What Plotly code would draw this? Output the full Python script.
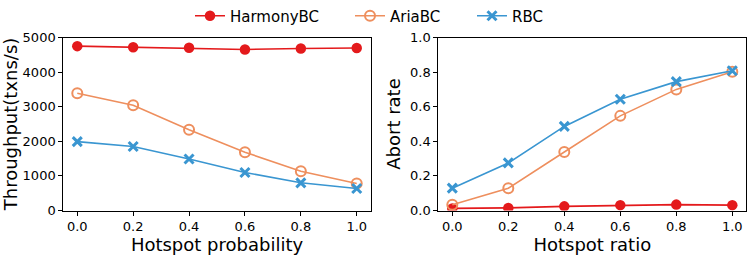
import plotly.graph_objects as go

x_vals = [0.0, 0.2, 0.4, 0.6, 0.8, 1.0]
series_names = ["HarmonyBC", "AriaBC", "RBC"]

throughput_harmony = [4750, 4720, 4705, 4655, 4680, 4695]
throughput_aria = [3390, 3040, 2335, 1685, 1135, 780]
throughput_rbc = [1990, 1850, 1490, 1100, 800, 635]

abort_harmony = [0.012, 0.015, 0.024, 0.031, 0.034, 0.031]
abort_aria = [0.033, 0.129, 0.338, 0.547, 0.700, 0.802]
abort_rbc = [0.129, 0.275, 0.486, 0.643, 0.745, 0.808]

x_ticks = [0.0, 0.2, 0.4, 0.6, 0.8, 1.0]
tp_ticks = [0, 1000, 2000, 3000, 4000, 5000]
ab_ticks = [0.0, 0.2, 0.4, 0.6, 0.8, 1.0]

colors = ["#e41a1c", "#ee8f5e", "#3a96d1"]
FONT = "DejaVu Sans"

fig = go.Figure()

styles = [
    dict(symbol="circle", size=10.5, color=colors[0], line=dict(width=0)),
    dict(symbol="circle-open", size=10, color=colors[1], line=dict(width=2, color=colors[1])),
    dict(symbol="x-thin-open", size=9, color=colors[2], line=dict(width=3, color=colors[2])),
]

left = [throughput_harmony, throughput_aria, throughput_rbc]
right = [abort_harmony, abort_aria, abort_rbc]
legend_ids = ["legend", "legend2", "legend3"]

for i, name in enumerate(series_names):
    fig.add_trace(go.Scatter(
        x=x_vals, y=left[i], name=name, mode="lines+markers",
        line=dict(color=colors[i], width=1.6), marker=styles[i],
        xaxis="x", yaxis="y", legendgroup=name, showlegend=True,
        legend=legend_ids[i],
    ))
for i, name in enumerate(series_names):
    fig.add_trace(go.Scatter(
        x=x_vals, y=right[i], name=name, mode="lines+markers",
        line=dict(color=colors[i], width=1.6), marker=styles[i],
        xaxis="x2", yaxis="y2", legendgroup=name, showlegend=False,
    ))

axis_common = dict(
    showline=True, linecolor="black", linewidth=1, mirror=True,
    ticks="outside", ticklen=4, tickwidth=1, tickcolor="black",
    showgrid=False, zeroline=False,
    tickfont=dict(family=FONT, size=13, color="black"),
)

ydom = [1 - 210.5 / 256, 1 - 37.5 / 256]

def legend_at(xpx):
    return dict(orientation="h", x=xpx / 747, xanchor="left", y=1 - 16 / 256, yanchor="middle",
                font=dict(family=FONT, size=15, color="black"), bgcolor="rgba(0,0,0,0)")

fig.update_layout(
    width=747, height=256,
    margin=dict(l=0, r=0, t=0, b=0, autoexpand=False),
    paper_bgcolor="white", plot_bgcolor="white",
    font=dict(family=FONT, color="black"),
    xaxis=dict(domain=[63.3 / 747, 370.7 / 747], range=[-0.05, 1.05],
               tickvals=x_ticks, ticktext=[f"{v:.1f}" for v in x_ticks],
               title=dict(text="Hotspot probability", font=dict(family=FONT, size=18), standoff=0),
               anchor="y", **axis_common),
    yaxis=dict(domain=ydom, range=[0, 5000], tickvals=tp_ticks,
               ticktext=[str(v) for v in tp_ticks],
               title=dict(text="Throughput(txns/s)", font=dict(family=FONT, size=18), standoff=4),
               anchor="x", **axis_common),
    xaxis2=dict(domain=[438.3 / 747, 746.3 / 747], range=[-0.05, 1.05],
                tickvals=x_ticks, ticktext=[f"{v:.1f}" for v in x_ticks],
                title=dict(text="Hotspot ratio", font=dict(family=FONT, size=18), standoff=0),
                anchor="y2", **axis_common),
    yaxis2=dict(domain=ydom, range=[0, 1.0], tickvals=ab_ticks,
                ticktext=[f"{v:.1f}" for v in ab_ticks],
                title=dict(text="Abort rate", font=dict(family=FONT, size=18), standoff=4),
                anchor="x2", **axis_common),
    legend=legend_at(190),
    legend2=legend_at(350),
    legend3=legend_at(472),
    showlegend=True,
)

fig.write_html("out.html", config={"displayModeBar": False},
               post_script="document.body.style.margin='0';document.body.style.overflow='hidden';")
